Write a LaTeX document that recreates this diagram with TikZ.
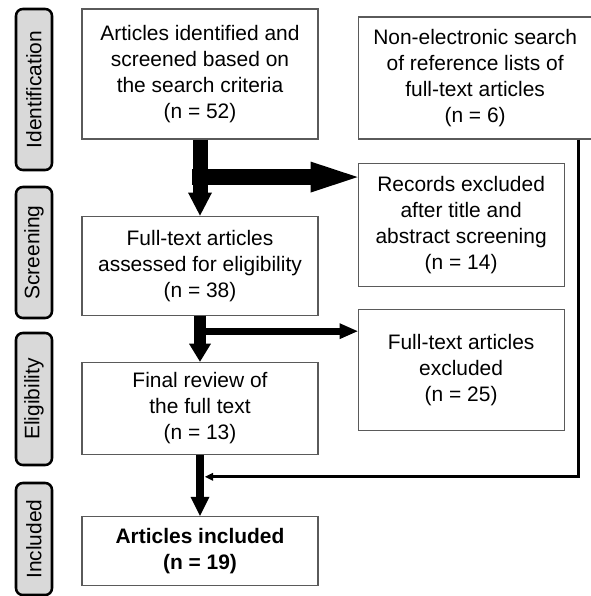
\documentclass[tikz,border=0pt]{standalone}
\usepackage{fontspec}
\setmainfont{Liberation Sans}
\usepackage{tikz}
\usetikzlibrary{arrows.meta,positioning,calc}
\definecolor{boxline}{RGB}{90,90,90}
\definecolor{tabfill}{RGB}{217,217,217}

\begin{document}
\begin{tikzpicture}[
    font=\fontsize{14.9}{18.5}\selectfont,
    box/.style={rectangle, draw=boxline, line width=0.8pt,
        minimum width=5.9cm, align=center, fill=white},
    sidebox/.style={rectangle, draw=boxline, line width=0.8pt,
        minimum width=5.15cm, align=center, fill=white},
    phasetab/.style={rectangle, rounded corners=0.17cm, draw=black,
        line width=1.8pt, fill=tabfill, minimum height=0.9cm, rotate=90},
    flow/.style={draw=black},
    thinflow/.style={draw=black, line width=0.075cm,
        -{Triangle[width=0.2cm, length=0.2cm, line width=0pt]}}
]
\useasboundingbox (0,0) rectangle (14.75,-14.9);

% Phase tabs
\node[phasetab, minimum width=4.025cm] (tabident) at (0.85,-2.2375) {Identification};
\node[phasetab, minimum width=3.275cm] (tabscreen) at (0.85,-6.3125) {Screening};
\node[phasetab, minimum width=3.3cm] (tabelig) at (0.85,-9.975) {Eligibility};
\node[phasetab, minimum width=2.8cm] (tabincl) at (0.85,-13.475) {Included};

% Main column
\node[box, minimum height=3.25cm] (ident) at (5,-1.85)
    {Articles identified and\\screened based on\\the search criteria\\(n = 52)};
\node[box, minimum height=2.475cm, below=1.9cm of ident] (assessed)
    {Full-text articles\\assessed for eligibility\\(n = 38)};
\node[box, minimum height=2.3cm, below=1.15cm of assessed] (final)
    {Final review of\\the full text\\(n = 13)};
\node[box, minimum height=1.725cm, below=1.525cm of final,
    font=\fontsize{14.9}{18.5}\selectfont\bfseries] (included)
    {Articles included\\(n = 19)};

% Right column
\node[box, minimum width=5.85cm, minimum height=3.05cm,
    right=0.975cm of ident.south east, anchor=south west] (nonelec)
    {Non-electronic search\\of reference lists of\\full-text articles\\(n = 6)};
\node[sidebox, minimum height=3.075cm, below=0.575cm of nonelec.south west,
    anchor=north west] (records)
    {Records excluded\\after title and\\abstract screening\\(n = 14)};
\node[sidebox, minimum height=3.025cm, below=0.55cm of records] (ftexcl)
    {Full-text articles\\excluded\\(n = 25)};

% Split points
\coordinate (split1) at ($(ident.south)+(0,-0.9375)$);
\coordinate (split2) at ($(assessed.south)+(0,-0.3875)$);
\coordinate (merge) at ($(final.south)+(0,-0.55)$);

% Block arrows
\draw[flow, line width=0.375cm, -{Triangle[width=0.6cm, length=0.575cm, line width=0pt]}]
    (ident.south) -- (assessed.north);
\draw[flow, line width=0.4cm, -{Triangle[width=0.775cm, length=1.175cm, line width=0pt]}]
    ([xshift=-0.2cm]split1) -- (split1 -| records.west);

\draw[flow, line width=0.3cm, -{Triangle[width=0.55cm, length=0.45cm, line width=0pt]}]
    (assessed.south) -- (final.north);
\draw[flow, line width=0.17cm, -{Triangle[width=0.4cm, length=0.45cm, line width=0pt]}]
    ([xshift=-0.15cm]split2) -- (split2 -| ftexcl.west);

\draw[flow, line width=0.2cm, -{Triangle[width=0.475cm, length=0.475cm, line width=0pt]}]
    (final.south) -- (included.north);

% Hand search joins the flow
\draw[thinflow, shorten >=0.125cm] ([xshift=-0.35cm]nonelec.south east) |- (merge);

\end{tikzpicture}
\end{document}
